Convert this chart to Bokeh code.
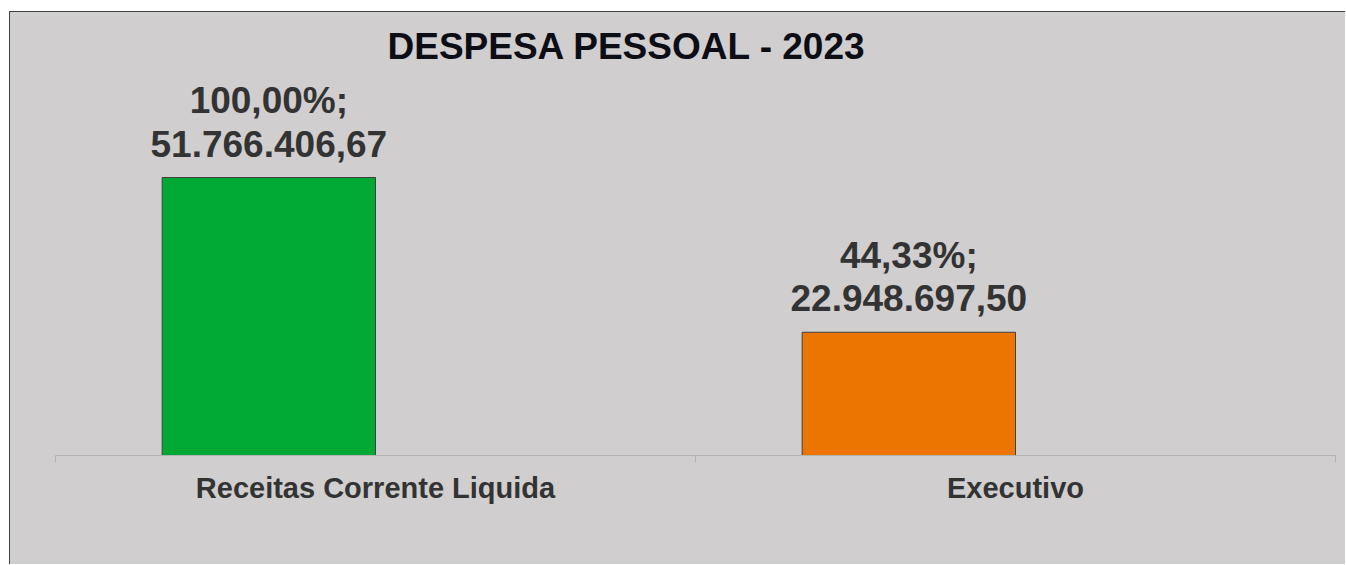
from bokeh.plotting import figure
from bokeh.models import ColumnDataSource, Range1d, FixedTicker
from bokeh.core.properties import value
from bokeh.embed import file_html
from bokeh.resources import INLINE

categories = ["Receitas Corrente Liquida", "Executivo"]
values = [51766406.67, 22948697.50]
percents = ["100,00%;", "44,33%;"]
value_labels = ["51.766.406,67", "22.948.697,50"]
colors = ["#00A933", "#EB7500"]

FONT = "Liberation Sans"
BG = "#D0CECE"

bar_w = 1.0 / 3.0
n = len(categories)
xs = [i + 0.5 - bar_w / 2 for i in range(n)]

src = ColumnDataSource(dict(x=xs, top=values, color=colors, pct=percents, val=value_labels))

# pixel layout helpers (page coordinates)
frame_top_px = 71.0
base_px = 455.0
tall_px = 177.0
y_end = values[0] * (base_px - frame_top_px) / (base_px - tall_px)

p = figure(width=1336, height=553, output_backend="svg", toolbar_location=None,
           x_range=Range1d(0, n), y_range=Range1d(0, y_end),
           min_border_left=45, min_border_right=11, min_border_bottom=110,
           min_border_top=59, title="DESPESA PESSOAL - 2023")
p.styles = {"border-top": "1px solid #444444", "border-left": "1px solid #444444",
            "margin-top": "11px", "margin-left": "9px", "background-color": BG}

p.background_fill_color = BG
p.border_fill_color = BG
p.outline_line_color = None
p.grid.visible = False
p.yaxis.visible = False

p.title.align = "left"
p.title.offset = 332
p.title.text_font = FONT
p.title.text_font_size = "37px"
p.title.text_font_style = "bold"
p.title.text_color = "#0d0d15"

p.vbar(x="x", top="top", width=bar_w, bottom=0, fill_color="color",
       line_color="#404040", line_width=1, source=src)

p.text(x="x", y="top", text="val", source=src, y_offset=-34,
       text_align="center", text_baseline="alphabetic",
       text_font=value(FONT), text_font_size="37px", text_font_style="bold",
       text_color="#333333")
p.text(x="x", y="top", text="pct", source=src, y_offset=-77,
       text_align="center", text_baseline="alphabetic",
       text_font=value(FONT), text_font_size="37px", text_font_style="bold",
       text_color="#333333")

ax = p.xaxis[0]
ax.ticker = FixedTicker(ticks=[i + 0.5 for i in range(n)],
                        minor_ticks=[i for i in range(n + 1)])
ax.major_label_overrides = {i + 0.5: c for i, c in enumerate(categories)}
ax.major_tick_line_color = None
ax.major_tick_out = 7
ax.minor_tick_out = 7
ax.minor_tick_in = 0
ax.minor_tick_line_color = "#B3B3B3"
ax.axis_line_color = "#B3B3B3"
ax.axis_line_width = 1
ax.major_label_standoff = 9
ax.major_label_text_font = FONT
ax.major_label_text_font_size = "29px"
ax.major_label_text_font_style = "bold"
ax.major_label_text_color = "#333333"

open("out.html", "w").write(file_html(p, INLINE))
